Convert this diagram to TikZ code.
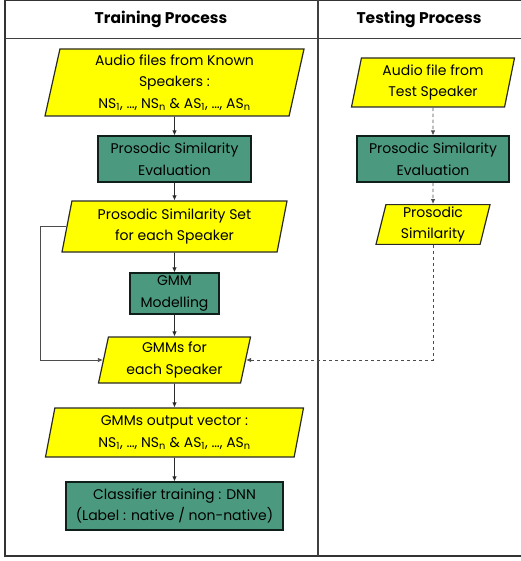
\documentclass[tikz,border=0pt]{standalone}
\usepackage{fontspec}
\setmainfont{Poppins}
\usetikzlibrary{positioning, arrows.meta, shapes.geometric}
\definecolor{jaune}{HTML}{FFFF00}
\definecolor{sarcelle}{HTML}{4B9A80}
\definecolor{trait}{HTML}{2A2A2A}

\begin{document}
\begin{tikzpicture}[
  x=1pt, y=-1pt,
  font=\fontsize{14}{21.5}\selectfont,
  cadre/.style={align=center, inner sep=2pt, line width=1.2pt},
  donnee/.style={cadre, shape=trapezium, trapezium left angle=76,
                 trapezium right angle=104, trapezium stretches body,
                 draw=trait, fill=jaune},
  calcul/.style={cadre, rectangle, draw=black!80!sarcelle, fill=sarcelle},
  titre/.style={font=\fontsize{15.5}{18}\selectfont\bfseries},
  fl/.style={-{Latex[length=5pt, width=4.5pt]}, trait, line width=0.8pt},
  flt/.style={fl, dash pattern=on 3.5pt off 2.5pt, black!70},
]
\useasboundingbox (0,0) rectangle (520,561);
% le cadre et les deux colonnes
\draw[line width=1.6pt, black!80] (5,0.5) rectangle (522,556);
\draw[line width=1.4pt, black!75] (5,38.5) -- (522,38.5);
\draw[line width=1.4pt, black!75] (318,0.5) -- (318,556);
\node[titre] (tapp) at (161,19) {Training Process};
\node[titre] (ttest) at (419,19.5) {Testing Process};
% apprentissage
\node[donnee, minimum width=259, minimum height=67] (audio) at (174.5,82.5)
  {Audio files from Known\\Speakers :\\NS\textsubscript{1}, …, NS\textsubscript{n} \& AS\textsubscript{1}, …, AS\textsubscript{n}};
\node[calcul, minimum width=153, minimum height=46] (eval) at (174.5,159)
  {Prosodic Similarity\\Evaluation};
\node[donnee, minimum width=225, minimum height=51] (ens) at (174.5,226.5)
  {Prosodic Similarity Set\\for each Speaker};
\node[calcul, minimum width=89, minimum height=41] (gmm) at (174.5,293.5)
  {GMM\\Modelling};
\node[donnee, minimum width=152, minimum height=46] (gmms) at (174.5,360)
  {GMMs for\\each Speaker};
\node[donnee, minimum width=258, minimum height=49] (vect) at (174.5,432.5)
  {GMMs output vector :\\NS\textsubscript{1}, …, NS\textsubscript{n} \& AS\textsubscript{1}, …, AS\textsubscript{n}};
\node[calcul, minimum width=217, minimum height=48] (dnn) at (174.5,506)
  {Classifier training : DNN\\(Label : native / non-native)};
% test
\node[donnee, minimum width=163, minimum height=49] (audiot) at (433,82.5)
  {Audio file from\\Test Speaker};
\node[calcul, minimum width=152, minimum height=46] (evalt) at (433,159)
  {Prosodic Similarity\\Evaluation};
\node[donnee, minimum width=114, minimum height=39] (simt) at (433,224.5)
  {Prosodic\\Similarity};
% flux
\draw[fl] (audio) -- (eval);
\draw[fl] (eval) -- (ens);
\draw[fl] (ens) -- (gmm);
\draw[fl] (gmm) -- (gmms);
\draw[fl] (gmms) -- (vect);
\draw[fl] (vect) -- (dnn);
\draw[fl, black!70] (ens.west) -- ++(-26,0) |- (gmms.west);
\draw[flt] (audiot) -- (evalt);
\draw[flt] (evalt) -- (simt);
\draw[flt] (simt) |- (gmms.east);
\end{tikzpicture}
\end{document}
